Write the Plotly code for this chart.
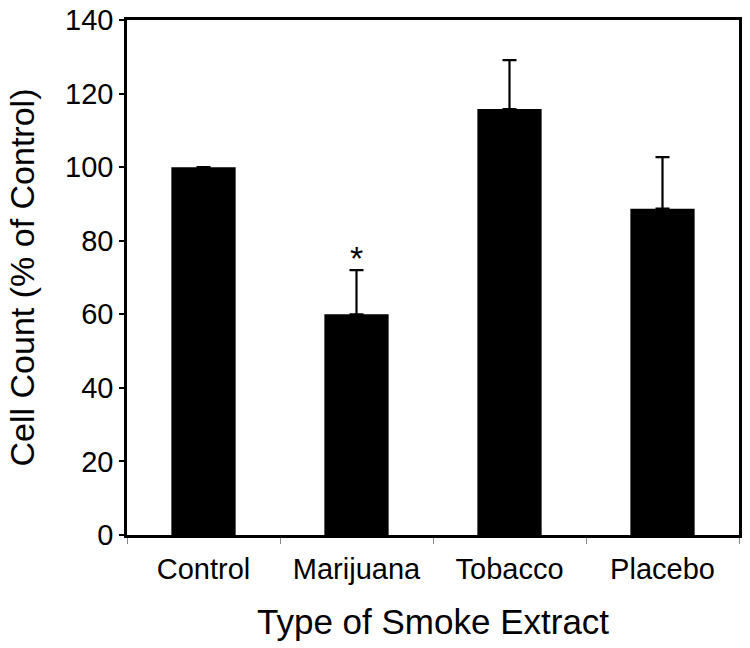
import plotly.graph_objects as go

# data
categories = ["Control", "Marijuana", "Tobacco", "Placebo"]
cell_count = [100, 60, 115.8, 88.7]
error_plus = [None, 12, 13.3, 14]
y_ticks = [0, 20, 40, 60, 80, 100, 120, 140]

FONT = "Liberation Sans, Arial, sans-serif"

fig = go.Figure()

fig.add_trace(
    go.Bar(
        x=categories,
        y=cell_count,
        width=0.42,
        marker=dict(color="black", line=dict(width=0)),
        error_y=dict(
            type="data",
            symmetric=False,
            array=error_plus,
            arrayminus=[0] * len(error_plus),
            color="black",
            thickness=2.2,
            width=7,
        ),
    )
)

# significance marker
fig.add_annotation(
    x="Marijuana",
    y=cell_count[1] + error_plus[1],
    text="*",
    showarrow=False,
    yanchor="bottom",
    yshift=-9,
    font=dict(family=FONT, size=34, color="black"),
)

# x axis title placed by hand
fig.add_annotation(
    x=0.5,
    y=-0.168,
    xref="paper",
    yref="paper",
    text="Type of Smoke Extract",
    showarrow=False,
    yanchor="middle",
    font=dict(family=FONT, size=35, color="black"),
)

fig.update_layout(
    width=750,
    height=648,
    margin=dict(l=127, r=11, t=20, b=113),
    paper_bgcolor="white",
    plot_bgcolor="white",
    showlegend=False,
    font=dict(family=FONT, color="black"),
    xaxis=dict(
        tickfont=dict(size=29),
        automargin=False,
        ticklabelstandoff=6,
        showline=True,
        linecolor="black",
        linewidth=2.5,
        mirror=True,
        ticks="outside",
        tickson="boundaries",
        ticklen=6,
        tickcolor="#888888",
        tickwidth=1,
        showgrid=False,
    ),
    yaxis=dict(
        title=dict(text="Cell Count (% of Control)", font=dict(size=34), standoff=21),
        tickfont=dict(size=29),
        automargin=False,
        range=[0, 140],
        tickvals=y_ticks,
        showline=True,
        linecolor="black",
        linewidth=2.5,
        mirror=True,
        ticks="outside",
        ticklen=5,
        tickcolor="black",
        tickwidth=1.5,
        showgrid=False,
        zeroline=False,
    ),
)

fig.write_html(
    "out.html",
    config={"displayModeBar": False},
    post_script="document.body.style.margin='0';",
)
